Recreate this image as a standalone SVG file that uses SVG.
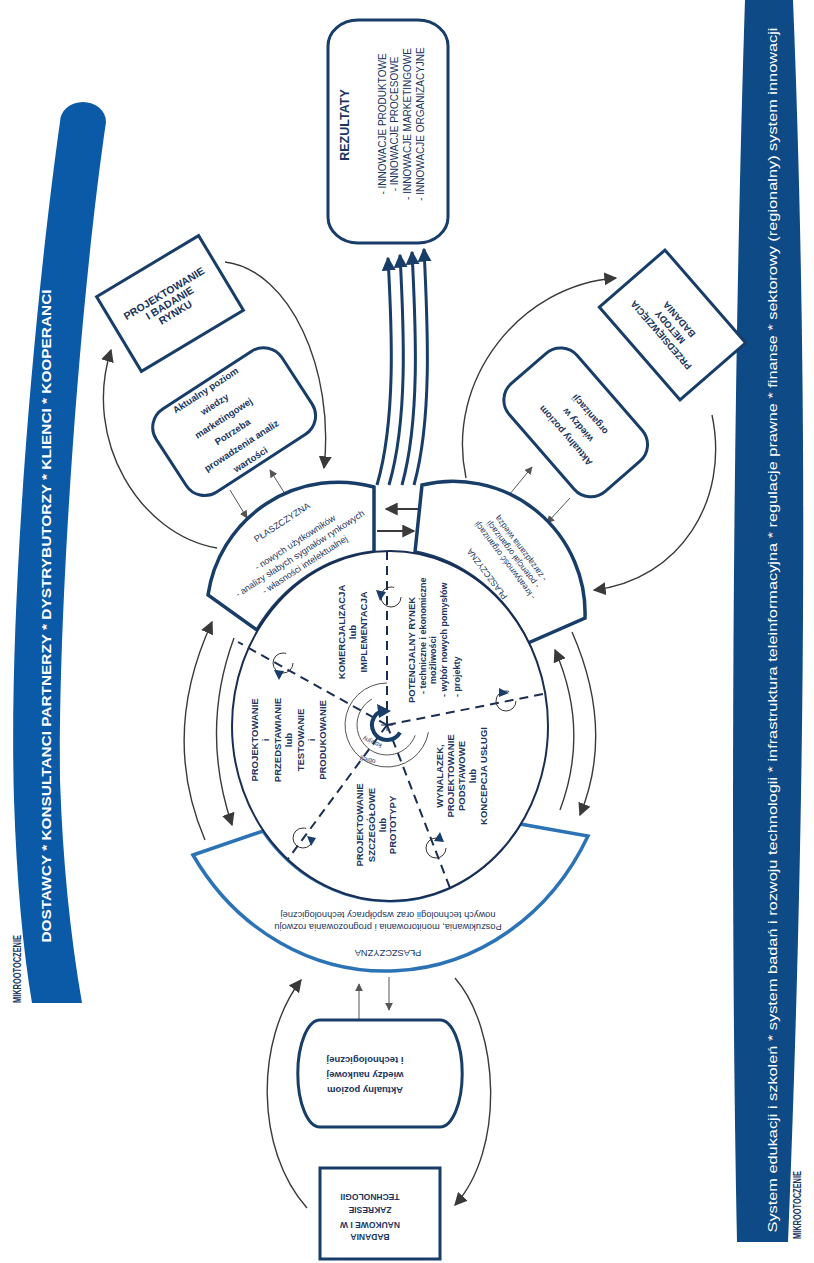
<svg xmlns="http://www.w3.org/2000/svg" width="814" height="1263" viewBox="0 0 814 1263">
<defs>
<style>
text{font-family:"Liberation Sans",Arial,Helvetica,sans-serif;fill:#1b3560}
.b{font-weight:bold}
.w{fill:#fff}
.box{fill:#fff;stroke:#173d68;stroke-width:3}
.seg{fill:#fff;stroke:#173d68;stroke-width:3.5}
.segb{fill:#fff;stroke:#2b73b5;stroke-width:3.5}
.arc{fill:none;stroke:#3a3a3a;stroke-width:1.4}
.thin{fill:none;stroke:#555;stroke-width:1}
.dash{stroke:#1a2d52;stroke-width:2;stroke-dasharray:9 6;fill:none}
.bund{fill:none;stroke:#173d68;stroke-width:3}
.sc{fill:none;stroke:#333;stroke-width:1}
.tri{fill:#173d68}
</style>
<marker id="ah" viewBox="0 0 10 10" refX="9" refY="5" markerWidth="13" markerHeight="13" markerUnits="userSpaceOnUse" orient="auto"><path d="M0,0 L10,5 L0,10 z" fill="#3a3a3a"/></marker>
<marker id="ahs" viewBox="0 0 10 10" refX="9" refY="5" markerWidth="8" markerHeight="8" markerUnits="userSpaceOnUse" orient="auto"><path d="M0,0 L10,5 L0,10 z" fill="#555"/></marker>
<marker id="ahn" viewBox="0 0 10 10" refX="9" refY="5" markerWidth="14" markerHeight="14" markerUnits="userSpaceOnUse" orient="auto"><path d="M0,0 L10,5 L0,10 z" fill="#173d68"/></marker>
</defs>
<rect width="814" height="1263" fill="#fff"/>

<g id="band-left">
<path d="M60 122 C35 300 8 600 14 800 Q18 920 32 1003 L82 1003 Q64 900 60 780 C58 600 80 300 106 122 A23 20 0 0 0 60 122 Z" fill="#0a5aa8"/>
<text class="b w" font-size="12.5" text-anchor="middle" textLength="653" lengthAdjust="spacingAndGlyphs" transform="translate(50.5,616) rotate(-90)">DOSTAWCY * KONSULTANCI PARTNERZY * DYSTRYBUTORZY * KLIENCI * KOOPERANCI</text>
<text class="b" font-size="10" text-anchor="middle" textLength="68" lengthAdjust="spacingAndGlyphs" transform="translate(21,969) rotate(-90)">MIKROOTOCZENIE</text>
</g>

<g id="band-right">
<path d="M745 0 L793 0 C805 300 810 700 788 1242 L737 1242 C730 900 732 400 745 0 Z" fill="#0d4a86"/>
<text class="w" font-size="12" text-anchor="middle" textLength="1205" lengthAdjust="spacingAndGlyphs" transform="translate(777,630) rotate(-90)">System edukacji i szkoleń * system badań i rozwoju technologii * infrastruktura teleinformacyjna * regulacje prawne * finanse * sektorowy (regionalny) system innowacji</text>
<text class="b" font-size="10" text-anchor="middle" textLength="68" lengthAdjust="spacingAndGlyphs" transform="translate(800.5,1205) rotate(-90)">MIKROOTOCZENIE</text>
</g>

<g id="connectors">
<path class="bund" marker-end="url(#ahn)" d="M377 485 C396 420 392 330 388 258"/>
<path class="bund" marker-end="url(#ahn)" d="M389 485 C408 420 404 330 400 255"/>
<path class="bund" marker-end="url(#ahn)" d="M402 485 C420 420 416 330 412 252"/>
<path class="bund" marker-end="url(#ahn)" d="M414 485 C432 420 428 330 424 249"/>
<line x1="419" y1="509" x2="386" y2="509" stroke="#3a3a3a" stroke-width="2.2" marker-end="url(#ah)"/>
<line x1="377" y1="531" x2="414" y2="531" stroke="#3a3a3a" stroke-width="2.2" marker-end="url(#ah)"/>
<path class="arc" marker-end="url(#ah)" d="M217 548 C140 535 82 440 111 350"/>
<path class="arc" marker-end="url(#ah)" d="M225 262 C290 270 335 370 324 468"/>
<line class="thin" marker-end="url(#ahs)" x1="287" y1="497" x2="270" y2="470"/>
<line class="thin" marker-end="url(#ahs)" x1="230" y1="490" x2="247" y2="518"/>
<path class="arc" marker-end="url(#ah)" d="M466 478 C445 380 520 285 616 278"/>
<path class="arc" marker-end="url(#ah)" d="M712 415 C730 500 680 580 594 590"/>
<line class="thin" marker-end="url(#ahs)" x1="505" y1="500" x2="532" y2="467"/>
<line class="thin" marker-end="url(#ahs)" x1="570" y1="498" x2="547" y2="523"/>
<path class="arc" marker-end="url(#ah)" d="M205 840 Q160 735 212 622"/>
<path class="arc" marker-end="url(#ah)" d="M234 638 Q200 730 232 825"/>
<path class="arc" marker-end="url(#ah)" d="M560 810 Q590 730 555 650"/>
<path class="arc" marker-end="url(#ah)" d="M572 632 Q615 730 580 815"/>
<path class="arc" marker-end="url(#ah)" d="M307 1208 C255 1150 255 1040 301 980"/>
<path class="arc" marker-end="url(#ah)" d="M455 978 C500 1030 505 1150 455 1205"/>
<line class="thin" marker-end="url(#ahs)" x1="359" y1="1020" x2="359" y2="984"/>
<line class="thin" marker-end="url(#ahs)" x1="389" y1="977" x2="389" y2="1010"/>
</g>

<g id="rezultaty">
<rect class="box" x="328" y="20" width="120" height="223" rx="30" ry="26"/>
<text class="b" font-size="12.5" text-anchor="middle" transform="translate(349,125) rotate(-90)">REZULTATY</text>
<text font-size="10" text-anchor="middle" transform="translate(385.5,124) rotate(-90)">- INNOWACJE PRODUKTOWE</text>
<text font-size="10" text-anchor="middle" transform="translate(397.5,124) rotate(-90)">- INNOWACJE PROCESOWE</text>
<text font-size="10" text-anchor="middle" transform="translate(410.5,124) rotate(-90)">- INNOWACJE MARKETINGOWE</text>
<text font-size="10" text-anchor="middle" transform="translate(423.5,124) rotate(-90)">- INNOWACJE ORGANIZACYJNE</text>
</g>

<g id="projektowanie-rynku" transform="translate(170,303.5) rotate(-31)">
<rect class="box" x="-59.5" y="-43.5" width="119" height="87"/>
<text class="b" font-size="10.5" text-anchor="middle" y="-8">PROJEKTOWANIE</text>
<text class="b" font-size="10.5" text-anchor="middle" y="3">I BADANIE</text>
<text class="b" font-size="10.5" text-anchor="middle" y="14">RYNKU</text>
</g>

<g id="wiedza-marketingowa" transform="translate(228,425) rotate(-33)">
<rect class="box" x="-68" y="-49" width="150" height="99" rx="22"/>
<text class="b" font-size="9.5" text-anchor="middle" y="-38">Aktualny poziom</text>
<text class="b" font-size="9.5" text-anchor="middle" y="-21.5">wiedzy</text>
<text class="b" font-size="9.5" text-anchor="middle" y="-5">marketingowej</text>
<text class="b" font-size="9.5" text-anchor="middle" y="11.5">Potrzeba</text>
<text class="b" font-size="9.5" text-anchor="middle" y="28">prowadzenia analiz</text>
<text class="b" font-size="9.5" text-anchor="middle" y="44.5">wartości</text>
</g>

<g id="przedsiewziecia" transform="translate(672.5,325) rotate(-131)">
<rect class="box" x="-61.5" y="-43.5" width="123" height="87"/>
<text class="b" font-size="9.5" text-anchor="middle" y="-12">PRZEDSIĘWZIĘCIA</text>
<text class="b" font-size="9.5" text-anchor="middle" y="0">METODY</text>
<text class="b" font-size="9.5" text-anchor="middle" y="12">BADANIA</text>
</g>

<g id="wiedza-organizacja" transform="translate(578,425) rotate(-131)">
<rect class="box" x="-68" y="-45" width="143" height="90" rx="22"/>
<text class="b" font-size="9.5" text-anchor="middle" y="-13">Aktualny poziom</text>
<text class="b" font-size="9.5" text-anchor="middle" y="3">wiedzy w</text>
<text class="b" font-size="9.5" text-anchor="middle" y="19">organizacji</text>
</g>

<g id="plaszczyzna-rynek">
<path class="seg" d="M208 595 A132 132 0 0 1 374 487 L374 552 A158 175 0 0 0 257 630 Z"/>
<g transform="translate(300,550) rotate(-33)">
<text font-size="9" text-anchor="middle" x="0" y="-30">PŁASZCZYZNA</text>
<text font-size="9" text-anchor="middle" x="0" y="-6">- nowych użytkowników</text>
<text font-size="9" text-anchor="middle" x="-2" y="6">- analizy słabych sygnałów rynkowych</text>
<text font-size="9" text-anchor="middle" x="-4" y="18">- własności intelektualnej</text>
</g>
</g>

<g id="plaszczyzna-organizacja">
<path class="seg" d="M422 485 A132 132 0 0 1 585 618 L528 643 A158 175 0 0 0 415 552 Z"/>
<g transform="translate(487,574) rotate(-127)">
<text font-size="8.5" text-anchor="middle" y="3">PŁASZCZYZNA</text>
<text font-size="8.5" text-anchor="middle" y="25">- kreatywność organizacji</text>
<text font-size="8.5" text-anchor="middle" y="35">- potencjał organizacji</text>
<text font-size="8.5" text-anchor="middle" y="45">- zarządzania wiedzą</text>
</g>
</g>

<g id="plaszczyzna-technologia">
<path class="segb" d="M193 855 L263 831 A158 175 0 0 0 520 824 L588 836 A228 250 0 0 1 193 855 Z"/>
<text font-size="9.3" text-anchor="middle" transform="rotate(180,388,923.7)" x="388" y="923.7">Poszukiwania, monitorowania i prognozowania rozwoju</text>
<text font-size="9.3" text-anchor="middle" transform="rotate(180,388,911.7)" x="388" y="911.7">nowych technologii oraz współpracy technologicznej</text>
<text font-size="9.3" text-anchor="middle" transform="rotate(180,388,949.7)" x="388" y="949.7">PŁASZCZYZNA</text>
</g>

<g id="cykl">
<ellipse cx="390" cy="726" rx="158" ry="175" fill="#fff" stroke="#1a2d52" stroke-width="2"/>
<line class="dash" x1="387" y1="725" x2="387" y2="551"/>
<line class="dash" x1="387" y1="725" x2="238" y2="642"/>
<line class="dash" x1="387" y1="725" x2="548" y2="693"/>
<line class="dash" x1="387" y1="725" x2="288" y2="859"/>
<line class="dash" x1="387" y1="725" x2="450" y2="888"/>
<circle class="sc" cx="391" cy="597" r="10" stroke-dasharray="50 13"/>
<polygon class="tri" points="376,590 386,592 380,601"/>
<circle class="sc" cx="283" cy="663" r="10" stroke-dasharray="50 13"/>
<polygon class="tri" points="274,670 284,671 279,680"/>
<circle class="sc" cx="506" cy="701" r="10" stroke-dasharray="50 13"/>
<polygon class="tri" points="499,688 509,693 499,697"/>
<circle class="sc" cx="303" cy="838" r="10" stroke-dasharray="50 13"/>
<polygon class="tri" points="307,836 316,838 311,846"/>
<circle class="sc" cx="436" cy="848" r="10" stroke-dasharray="50 13"/>
<polygon class="tri" points="434,841 440,832 444,842"/>
<path class="thin" stroke="#444" d="M387 683 A42 42 0 1 0 428.4 732.3"/>
<path class="thin" stroke="#444" d="M372 699 A30 30 0 1 0 415.2 735.3"/>
<path d="M387 710 A15 15 0 1 0 400 732.5" fill="none" stroke="#173d68" stroke-width="4"/>
<polygon class="tri" points="377,704 391,711 379,718"/>
<line x1="381" y1="725" x2="393" y2="725" stroke="#1a2d52" stroke-width="1"/>
<line x1="387" y1="719" x2="387" y2="731" stroke="#1a2d52" stroke-width="1"/>
<text font-size="6.5" fill="#333" text-anchor="middle" transform="translate(373,740) rotate(203)">kolejny</text>
<text font-size="6.5" fill="#333" text-anchor="middle" transform="translate(368,758) rotate(190)">obieg</text>

<text class="b" font-size="9.5" text-anchor="middle" transform="translate(345.3,632) rotate(-90)">KOMERCJALIZACJA</text>
<text class="b" font-size="9.5" text-anchor="middle" transform="translate(356.3,632) rotate(-90)">lub</text>
<text class="b" font-size="9.5" text-anchor="middle" transform="translate(367.3,632) rotate(-90)">IMPLEMENTACJA</text>

<text class="b" font-size="9.5" transform="translate(415.3,703) rotate(-90)">POTENCJALNY RYNEK</text>
<text class="b" font-size="9" transform="translate(426.3,694) rotate(-90)">- techniczne i ekonomiczne</text>
<text class="b" font-size="9" transform="translate(436.3,684) rotate(-90)">możliwości</text>
<text class="b" font-size="9" transform="translate(447.3,697) rotate(-90)">- wybór nowych pomysłów</text>
<text class="b" font-size="9" transform="translate(460.3,697) rotate(-90)">- projekty</text>

<text class="b" font-size="9.5" text-anchor="middle" transform="translate(258.3,740) rotate(-90)">PROJEKTOWANIE</text>
<text class="b" font-size="9.5" text-anchor="middle" transform="translate(269.3,740) rotate(-90)">i</text>
<text class="b" font-size="9.5" text-anchor="middle" transform="translate(281.3,740) rotate(-90)">PRZEDSTAWIANIE</text>
<text class="b" font-size="9.5" text-anchor="middle" transform="translate(292.3,740) rotate(-90)">lub</text>
<text class="b" font-size="9.5" text-anchor="middle" transform="translate(304.3,740) rotate(-90)">TESTOWANIE</text>
<text class="b" font-size="9.5" text-anchor="middle" transform="translate(315.3,740) rotate(-90)">i</text>
<text class="b" font-size="9.5" text-anchor="middle" transform="translate(326.3,740) rotate(-90)">PRODUKOWANIE</text>

<text class="b" font-size="9.5" text-anchor="middle" transform="translate(363.3,825) rotate(-90)">PROJEKTOWANIE</text>
<text class="b" font-size="9.5" text-anchor="middle" transform="translate(375.3,825) rotate(-90)">SZCZEGÓŁOWE</text>
<text class="b" font-size="9.5" text-anchor="middle" transform="translate(386.3,825) rotate(-90)">lub</text>
<text class="b" font-size="9.5" text-anchor="middle" transform="translate(396.3,825) rotate(-90)">PROTOTYPY</text>

<text class="b" font-size="9.5" text-anchor="middle" transform="translate(443.3,776) rotate(-90)">WYNALAZEK,</text>
<text class="b" font-size="9.5" text-anchor="middle" transform="translate(454.3,776) rotate(-90)">PROJEKTOWANIE</text>
<text class="b" font-size="9.5" text-anchor="middle" transform="translate(465.3,776) rotate(-90)">PODSTAWOWE</text>
<text class="b" font-size="9.5" text-anchor="middle" transform="translate(476.3,776) rotate(-90)">lub</text>
<text class="b" font-size="9.5" text-anchor="middle" transform="translate(487.3,776) rotate(-90)">KONCEPCJA USŁUGI</text>
</g>

<g id="wiedza-naukowa">
<path class="box" d="M320 1020 L440 1020 A22 53 0 0 1 440 1127 L320 1127 A22 53 0 0 1 320 1020 Z"/>
<text class="b" font-size="9.5" text-anchor="middle" transform="rotate(180,365,1086.7)" x="365" y="1086.7">Aktualny poziom</text>
<text class="b" font-size="9.5" text-anchor="middle" transform="rotate(180,365,1071.7)" x="365" y="1071.7">wiedzy naukowej</text>
<text class="b" font-size="9.5" text-anchor="middle" transform="rotate(180,365,1056.7)" x="365" y="1056.7">i technologicznej</text>
</g>

<g id="badania-naukowe">
<rect class="box" x="320" y="1168" width="120" height="91"/>
<text class="b" font-size="8.5" text-anchor="middle" transform="rotate(180,370,1234)" x="370" y="1234">BADANIA</text>
<text class="b" font-size="8.5" text-anchor="middle" transform="rotate(180,370,1221.5)" x="370" y="1221.5">NAUKOWE I W</text>
<text class="b" font-size="8.5" text-anchor="middle" transform="rotate(180,370,1207)" x="370" y="1207">ZAKRESIE</text>
<text class="b" font-size="8.5" text-anchor="middle" transform="rotate(180,370,1194)" x="370" y="1194">TECHNOLOGII</text>
</g>
</svg>
